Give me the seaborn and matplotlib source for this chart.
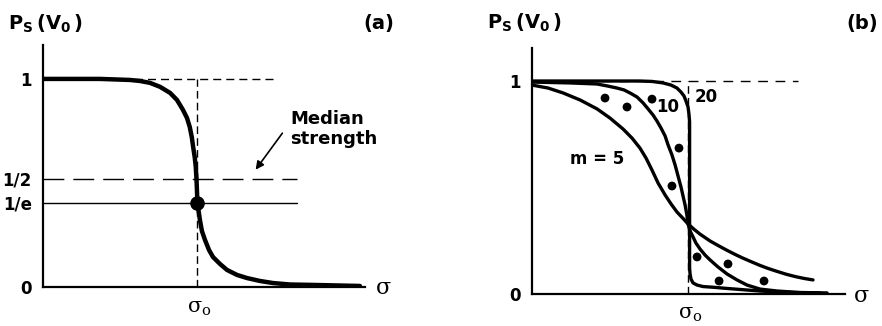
import matplotlib
matplotlib.use("Agg")
import matplotlib.pyplot as plt
import seaborn as sns
import pandas as pd

# ---- data (sigma in units of sigma0) ----
# panel (a): single survival curve
a_sigma = [0.0, 0.370, 0.565, 0.630, 0.695, 0.760, 0.825, 0.870, 0.909, 0.935,
           0.953, 0.966, 0.975, 0.985, 0.992, 0.997, 1.003, 1.019, 1.032, 1.052,
           1.078, 1.104, 1.149, 1.195, 1.260, 1.325, 1.409, 1.494, 1.604, 1.753,
           2.058]
a_ps = [1.0, 1.0, 0.995, 0.990, 0.981, 0.962, 0.933, 0.899, 0.851, 0.8125,
        0.769, 0.721, 0.673, 0.625, 0.577, 0.514, 0.404, 0.322, 0.269, 0.226,
        0.178, 0.144, 0.111, 0.082, 0.058, 0.043, 0.029, 0.019, 0.012, 0.010,
        0.005]
a_yticks = [0.0, 0.404, 0.52, 1.0]
a_yticklabels = ["0", "1/e", "1/2", "1"]
a_dot = (1.0, 0.404)

# panel (b): three Weibull moduli
m5_sigma = [0.0, 0.103, 0.199, 0.308, 0.417, 0.5, 0.583, 0.641, 0.692, 0.731,
            0.769, 0.808, 0.853, 0.891, 0.929, 0.968, 1.0, 1.038, 1.077, 1.141,
            1.192, 1.25, 1.301, 1.353, 1.410, 1.462, 1.513, 1.571, 1.628, 1.686,
            1.744, 1.801]
m5_ps = [0.981, 0.967, 0.944, 0.911, 0.869, 0.826, 0.775, 0.732, 0.685, 0.638,
         0.582, 0.521, 0.465, 0.423, 0.385, 0.355, 0.329, 0.304, 0.281, 0.249,
         0.228, 0.205, 0.186, 0.168, 0.150, 0.134, 0.120, 0.106, 0.093, 0.082,
         0.073, 0.066]
m10_sigma = [0.0, 0.244, 0.417, 0.481, 0.545, 0.590, 0.628, 0.673, 0.712, 0.744,
             0.776, 0.801, 0.827, 0.853, 0.872, 0.897, 0.917, 0.936, 0.955, 0.968,
             0.981, 0.992, 1.0, 1.013, 1.032, 1.051, 1.077, 1.109, 1.141, 1.192,
             1.25, 1.314, 1.378, 1.462, 1.571, 1.718, 1.891]
m10_ps = [0.995, 0.991, 0.986, 0.977, 0.967, 0.958, 0.944, 0.925, 0.897, 0.869,
          0.840, 0.812, 0.779, 0.742, 0.700, 0.653, 0.606, 0.554, 0.502, 0.460,
          0.418, 0.374, 0.329, 0.296, 0.268, 0.239, 0.211, 0.183, 0.160, 0.127,
          0.094, 0.066, 0.042, 0.023, 0.014, 0.007, 0.005]
m20_sigma = [0.0, 0.436, 0.692, 0.769, 0.840, 0.891, 0.929, 0.955, 0.974, 0.987,
             1.0, 1.006, 1.010, 1.010, 1.010, 1.013, 1.019, 1.032, 1.058, 1.096,
             1.173, 1.25, 1.462, 1.654, 1.846]
m20_ps = [1.0, 1.0, 1.0, 0.998, 0.991, 0.981, 0.967, 0.948, 0.930, 0.906,
          0.878, 0.845, 0.808, 0.329, 0.122, 0.094, 0.070, 0.052, 0.042, 0.035,
          0.031, 0.026, 0.014, 0.007, 0.005]
b_pts_sigma = [0.468, 0.609, 0.769, 0.942, 0.897, 1.058, 1.256, 1.199, 1.487]
b_pts_ps = [0.920, 0.878, 0.915, 0.685, 0.507, 0.174, 0.141, 0.061, 0.061]
b_labels = ["m = 5", "10", "20"]
b_label_pos = [(0.417, 0.634), (0.872, 0.878), (1.115, 0.925)]

sns.set_style("white")
plt.rcParams["font.family"] = ["DejaVu Sans"]
plt.rcParams["font.weight"] = "bold"
plt.rcParams["text.color"] = "black"
plt.rcParams["xtick.color"] = "black"
plt.rcParams["ytick.color"] = "black"

W, H = 882, 326
fig = plt.figure(figsize=(W / 100, H / 100), dpi=100)


def box(l, t, r, b):
    return [l / W, 1 - b / H, (r - l) / W, (b - t) / H]


def fx(px):
    return px / W


def fy(py):
    return 1 - py / H


ax_a = fig.add_axes(box(43, 45, 365, 287))
ax_b = fig.add_axes(box(532, 48, 845, 294))

for ax in (ax_a, ax_b):
    sns.despine(ax=ax)
    for s in ("left", "bottom"):
        ax.spines[s].set_linewidth(1.6)
        ax.spines[s].set_color("black")
    ax.tick_params(length=0, labelsize=12, pad=8, colors="black")

smooth = dict(solid_joinstyle="round", solid_capstyle="round")

# ---- panel (a) ----
ax_a.set_xlim(0, 2.091)
ax_a.set_ylim(0, 1.163)
ax_a.plot([0, 1.526], [1, 1], color="black", lw=1, dashes=(5.8, 3.6))
ax_a.plot([0, 1.649], [0.52, 0.52], color="black", lw=1, dashes=(15, 6.5))
ax_a.plot([0, 1.649], [0.404, 0.404], color="black", lw=1)
ax_a.plot([1, 1], [0, 1], color="black", lw=1, dashes=(5.5, 3))
sns.lineplot(x=a_sigma, y=a_ps, ax=ax_a, color="black", lw=3.2,
             sort=False, estimator=None, **smooth)
ax_a.scatter([a_dot[0]], [a_dot[1]], s=90, color="black", zorder=5)
ax_a.set_yticks(a_yticks)
ax_a.set_yticklabels(a_yticklabels)
ax_a.set_xticks([])
ax_a.annotate("", xy=(1.370, 0.553), xytext=(1.565, 0.75),
              arrowprops=dict(arrowstyle="-|>", color="black", lw=1.2,
                              mutation_scale=12))

fig.text(fx(290), fy(129), "Median\nstrength", fontsize=13, ha="left",
         va="center", linespacing=1.1)

# ---- panel (b) ----
ax_b.set_xlim(0, 2.006)
ax_b.set_ylim(0, 1.155)
ax_b.plot([0, 1.705], [1, 1], color="black", lw=1, dashes=(7, 5.5))
ax_b.plot([1, 1], [0, 1], color="black", lw=1, dashes=(5.5, 3))
curves = pd.DataFrame({
    "sigma": m5_sigma + m10_sigma + m20_sigma,
    "ps": m5_ps + m10_ps + m20_ps,
    "m": ["5"] * len(m5_sigma) + ["10"] * len(m10_sigma) + ["20"] * len(m20_sigma),
})
sns.lineplot(data=curves, x="sigma", y="ps", units="m", estimator=None,
             sort=False, color="black", lw=2.4, ax=ax_b, **smooth)
sns.scatterplot(x=b_pts_sigma, y=b_pts_ps, ax=ax_b, color="black", s=40,
                edgecolor="none", zorder=5)
for lab, (xx, yy) in zip(b_labels, b_label_pos):
    ax_b.text(xx, yy, lab, fontsize=12, ha="center", va="center")
ax_b.set_yticks([0, 1])
ax_b.set_yticklabels(["0", "1"])
ax_b.set_xticks([])
for ax in (ax_a, ax_b):
    ax.set_xlabel("")
    ax.set_ylabel("")

# ---- free labels ----
ps_label = r"$\mathbf{P_S\,(V_0\,)}$"
fig.text(fx(8), fy(24), ps_label, fontsize=14, ha="left", va="center")
fig.text(fx(487), fy(23), ps_label, fontsize=14, ha="left", va="center")
fig.text(fx(379), fy(23), "(a)", fontsize=14, ha="center", va="center")
fig.text(fx(862), fy(23), "(b)", fontsize=14, ha="center", va="center")

serif = dict(family="DejaVu Serif", weight="normal")
fig.text(fx(376), fy(294), "σ", fontsize=16, ha="left", va="baseline", **serif)
fig.text(fx(854), fy(302), "σ", fontsize=16, ha="left", va="baseline", **serif)
fig.text(fx(199), fy(312), r"σ$_\mathregular{o}$", fontsize=15, ha="center",
         va="baseline", **serif)
fig.text(fx(690), fy(318), r"σ$_\mathregular{o}$", fontsize=15, ha="center",
         va="baseline", **serif)

fig.savefig("out.png", dpi=100)
